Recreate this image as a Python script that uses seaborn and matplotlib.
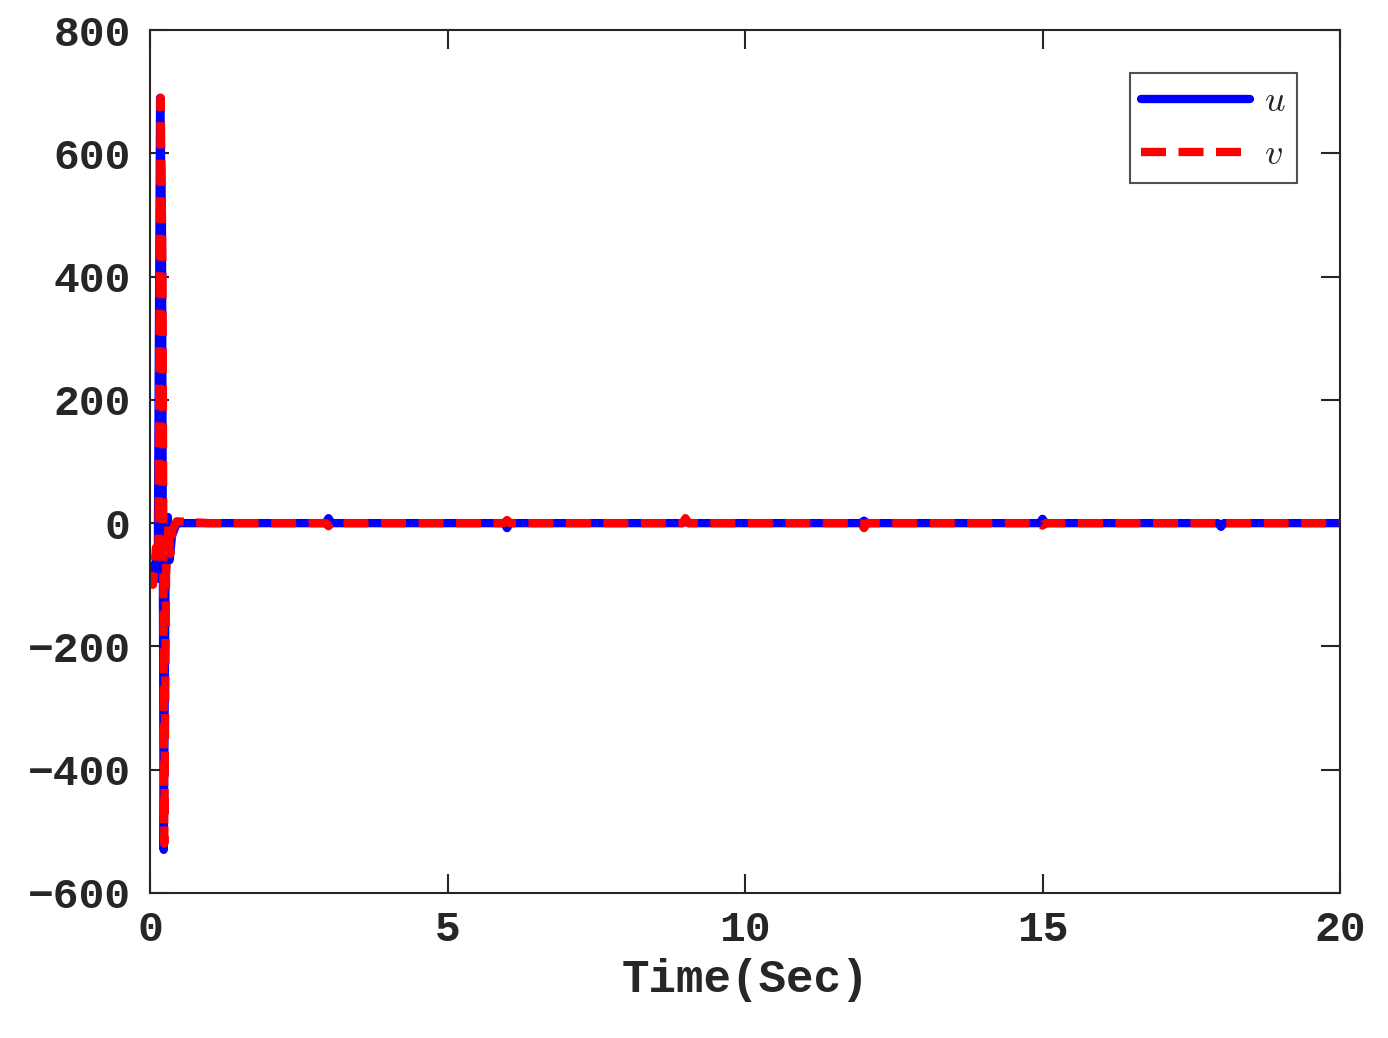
import numpy as np
import pandas as pd
import seaborn as sns
import matplotlib.pyplot as plt

# key points
t_u = [0.0, 0.05, 0.1, 0.13, 0.17, 0.2, 0.23, 0.26, 0.3, 0.33, 0.37, 0.45, 0.6, 1.0,
       2.95, 3.0, 3.05, 5.95, 6.0, 6.05, 8.95, 9.0, 9.05, 11.95, 12.0, 12.05,
       14.95, 15.0, 15.05, 17.95, 18.0, 18.05, 20.0]
u = [-70, -90, -60, -90, 690, 500, -530, -100, 10, -60, -20, 0, 0, 0,
     0, 8, 0, 0, -8, 0, 0, 6, 0, 0, 4, 0, 0, 7, 0, 0, -6, 0, 0]
t_v = [0.0, 0.05, 0.1, 0.14, 0.18, 0.21, 0.24, 0.27, 0.31, 0.34, 0.38, 0.45, 0.6, 1.0,
       2.95, 3.0, 3.05, 5.95, 6.0, 6.05, 8.95, 9.0, 9.05, 11.95, 12.0, 12.05,
       14.95, 15.0, 15.05, 17.95, 18.0, 18.05, 20.0]
v = [-80, -100, -40, -70, 690, 400, -520, -80, 0, -50, -10, 3, 2, 0,
     0, -5, 0, 0, 5, 0, 0, 8, 0, 0, -8, 0, 0, -4, 0, 0, 4, 0, 0]

df = pd.concat([
    pd.DataFrame({'t': t_u, 'val': u, 's': 'u'}),
    pd.DataFrame({'t': t_v, 'val': v, 's': 'v'}),
])

sns.set_style('white')
plt.rcParams['font.family'] = ['Liberation Mono', 'DejaVu Sans']
plt.rcParams['mathtext.fontset'] = 'cm'

fig = plt.figure(figsize=(13.88, 10.38), dpi=100)
ax = fig.add_axes([150 / 1388, 145 / 1038, 1190 / 1388, 863 / 1038])
sns.lineplot(data=df, x='t', y='val', hue='s', style='s',
             palette={'u': 'blue', 'v': 'red'},
             dashes={'u': '', 'v': (3, 1.5)}, linewidth=6, ax=ax, sort=False)

ax.set_xlim(0, 20)
ax.set_ylim(-600, 800)
ax.set_xticks([0, 5, 10, 15, 20])
ax.set_yticks(range(-600, 801, 200))
ax.set_xticklabels(['0', '5', '10', '15', '20'])
ax.set_yticklabels(['\u2212600', '\u2212400', '\u2212200', '0', '200', '400', '600', '800'])
ax.tick_params(labelsize=31, length=14, width=1.5, direction='in',
               top=True, right=True, bottom=True, left=True, colors='#262626')
ax.tick_params(axis='x', pad=12)
ax.tick_params(axis='y', pad=14)
for lab in ax.get_xticklabels() + ax.get_yticklabels():
    lab.set_fontweight('bold')
for sp in ax.spines.values():
    sp.set_linewidth(1.5)
    sp.set_color('#262626')
ax.set_xlabel('Time(Sec)', fontsize=33, fontweight='bold', color='#262626', labelpad=6)
ax.set_ylabel('')

h, l = ax.get_legend_handles_labels()
leg = ax.legend(h, ['$u$', '$v$'], loc='upper right', fontsize=26, frameon=True,
                fancybox=False, edgecolor='#262626', handlelength=3.0,
                handletextpad=0.4, borderpad=0.3, borderaxespad=1.2)
leg.get_frame().set_linewidth(1.5)

fig.savefig('out.png', dpi=100)
